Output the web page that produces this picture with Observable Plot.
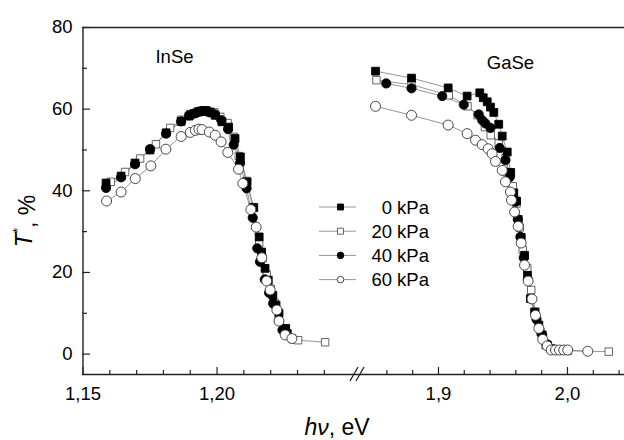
<!DOCTYPE html>
<html><head><meta charset="utf-8">
<script src="https://cdn.jsdelivr.net/npm/d3@7"></script>
<script src="https://cdn.jsdelivr.net/npm/@observablehq/plot@0.6"></script>
<style>
body{margin:0;background:#fff;font-family:"Liberation Sans",Arial,sans-serif}
#chart svg{display:block}
</style>
</head><body><div id="chart"></div>
<script>
// ---- data (photon energy eV, T* %) ----
const seriesNames = ["0 kPa", "20 kPa", "40 kPa", "60 kPa"];
const materialLabels = ["InSe", "GaSe"];

const inSe0 = [[1.1586,41.9],[1.1642,43.6],[1.1694,46.8],[1.1750,50.0],[1.1810,54.2],[1.1866,57.0],[1.1896,58.3],[1.1914,58.9],[1.1929,59.3],[1.1944,59.6],[1.1959,59.6],[1.1974,59.3],[1.1993,58.5],[1.2018,56.9],[1.2043,55.6],[1.2067,52.8],[1.2087,48.3],[1.2112,42.2],[1.2137,35.9],[1.2157,28.7],[1.2166,25.0],[1.2179,21.0],[1.2191,18.1],[1.2208,14.4],[1.2220,12.0],[1.2231,10.0],[1.2256,6.3],[1.2262,5.0]];
const inSe20 = [[1.1604,42.2],[1.1657,44.6],[1.1713,47.9],[1.1772,51.4],[1.1825,55.4],[1.1866,57.4],[1.1900,58.8],[1.1930,59.5],[1.1960,59.7],[1.1990,59.2],[1.2012,58.1],[1.2039,56.6],[1.2062,53.2],[1.2081,48.5],[1.2110,42.4],[1.2133,36.0],[1.2157,27.1],[1.2170,23.5],[1.2185,19.5],[1.2200,16.0],[1.2215,12.5],[1.2230,9.5],[1.2255,5.5],[1.2280,3.8],[1.2302,3.4],[1.2403,2.9]];
const inSe40 = [[1.1586,40.7],[1.1642,43.3],[1.1694,46.5],[1.1750,50.2],[1.1810,54.0],[1.1866,57.0],[1.1896,58.5],[1.1913,58.9],[1.1929,59.3],[1.1944,59.5],[1.1959,59.5],[1.1973,59.2],[1.1992,58.7],[1.2016,57.3],[1.2041,55.1],[1.2062,51.3],[1.2086,46.8],[1.2110,40.6],[1.2133,33.4],[1.2150,25.9],[1.2160,22.6],[1.2178,18.3],[1.2194,15.0],[1.2209,12.4],[1.2244,5.9]];
const inSe60 = [[1.1588,37.5],[1.1642,39.7],[1.1695,43.0],[1.1753,46.1],[1.1809,50.2],[1.1866,53.3],[1.1900,54.3],[1.1919,54.8],[1.1932,55.1],[1.1944,55.0],[1.1971,54.4],[1.1993,53.6],[1.2015,52.0],[1.2040,49.4],[1.2080,45.3],[1.2096,41.8],[1.2126,35.4],[1.2146,31.1],[1.2167,23.6],[1.2185,17.9],[1.2198,15.7],[1.2223,10.8],[1.2231,8.1],[1.2254,4.7],[1.2279,3.8]];

const gaSe0 = [[1.8512,69.3],[1.8791,67.6],[1.9075,65.2],[1.9222,63.2],[1.9320,64.0],[1.9347,62.8],[1.9378,61.8],[1.9403,60.5],[1.9429,59.2],[1.9467,56.3],[1.9494,53.4],[1.9533,49.5],[1.9560,44.5],[1.9584,39.5],[1.9605,37.5],[1.9618,33.0],[1.9641,28.6],[1.9667,24.2],[1.9690,19.3],[1.9713,13.6],[1.9745,10.3],[1.9778,7.1],[1.9804,4.7],[1.9843,2.2],[1.9874,1.3]];
const gaSe20 = [[1.8519,67.1],[1.8791,66.0],[1.9080,63.4],[1.9225,60.7],[1.9303,58.5],[1.9360,55.6],[1.9405,53.6],[1.9467,51.6],[1.9520,48.0],[1.9545,44.6],[1.9576,41.1],[1.9605,36.9],[1.9630,31.0],[1.9653,25.5],[1.9688,21.0],[1.9719,15.7],[1.9752,10.4],[1.9790,5.5],[1.9830,2.2],[1.9874,1.2],[1.9938,0.9],[2.0002,0.8],[2.0320,0.6]];
const gaSe40 = [[1.8595,66.3],[1.8791,65.1],[1.9029,63.2],[1.9196,61.1],[1.9312,58.7],[1.9339,57.3],[1.9364,56.5],[1.9403,55.4],[1.9475,50.5],[1.9519,47.5],[1.9553,43.4],[1.9597,37.3],[1.9615,33.0],[1.9635,28.7],[1.9661,23.6],[1.9693,18.3],[1.9719,13.5],[1.9760,8.5],[1.9804,4.7],[1.9843,2.4],[1.9874,1.2]];
const gaSe60 = [[1.8512,60.7],[1.8791,58.5],[1.9075,56.1],[1.9222,54.0],[1.9287,52.4],[1.9339,51.3],[1.9385,50.3],[1.9416,49.1],[1.9442,47.2],[1.9494,45.0],[1.9519,42.2],[1.9558,39.7],[1.9566,37.7],[1.9590,34.8],[1.9618,31.3],[1.9641,27.2],[1.9667,21.8],[1.9695,17.9],[1.9725,13.5],[1.9752,9.5],[1.9778,6.3],[1.9808,3.6],[1.9843,2.0],[1.9874,1.0],[1.9907,1.0],[1.9938,1.0],[1.9971,1.0],[2.0002,1.0],[2.0157,0.7]];

const xMajorTicks = [1.15, 1.20, 1.9, 2.0];
const xMinorTicks = [1.16, 1.17, 1.18, 1.19, 1.21, 1.22, 1.23, 1.24, 1.86, 1.88, 1.92, 1.94, 1.96, 1.98, 2.02, 2.04];
const yMajorTicks = [0, 20, 40, 60, 80];
const yMinorTicks = [10, 30, 50, 70];
const axisBreak = [1.252, 1.838];

// ---- build ----
const W = 624, H = 440;
const mL = 82, mT = 27, mB = 66, mR = 0;
const plotH = H - mT - mB, plotW = W - mL - mR;

const styles = [
  {symbol: "square", fill: "#000", stroke: "#000", r: 4.4},
  {symbol: "square", fill: "#fff", stroke: "#555", r: 4.2},
  {symbol: "circle", fill: "#000", stroke: "#000", r: 4.6},
  {symbol: "circle", fill: "#fff", stroke: "#333", r: 5.0}
];
const groups = [[inSe0, inSe20, inSe40, inSe60], [gaSe0, gaSe20, gaSe40, gaSe60]];
const rows = [];
groups.forEach((g, m) => g.forEach((arr, s) => arr.forEach(([x, y]) => rows.push({x, y, s, m}))));

const drawOrder = [1, 0, 2, 3];
const lineMarks = [];
const dotMarks = [];
for (let m = 0; m < 2; m++) {
  for (const s of drawOrder) {
    const d = rows.filter(r => r.m === m && r.s === s);
    lineMarks.push(Plot.line(d, {x: "x", y: "y", stroke: "#8a8a8a", strokeWidth: 0.9}));
  }
}
for (let m = 0; m < 2; m++) {
  for (const s of drawOrder) {
    const d = rows.filter(r => r.m === m && r.s === s);
    const st = styles[s];
    dotMarks.push(Plot.dot(d, {x: "x", y: "y", symbol: st.symbol, r: st.r, fill: st.fill, stroke: st.stroke, strokeWidth: 0.9}));
  }
}

const fmt = d => (d < 1.5 ? d.toFixed(2) : d.toFixed(1)).replace(".", ",");
const axisColor = "#222";

const legendMark = () => {
  const g = d3.create("svg:g");
  seriesNames.forEach((name, i) => {
    const y = 207 + i * 24.2;
    g.append("line").attr("x1", 319).attr("x2", 356).attr("y1", y).attr("y2", y)
      .attr("stroke", "#8a8a8a").attr("stroke-width", 0.9);
    const st = styles[i];
    const size = st.symbol === "square" ? 36 : 34;
    g.append("path").attr("transform", `translate(340.5,${y})`)
      .attr("d", d3.symbol(st.symbol === "square" ? d3.symbolSquare : d3.symbolCircle, size)())
      .attr("fill", st.fill).attr("stroke", st.stroke).attr("stroke-width", 0.9);
    g.append("text").attr("x", 429).attr("y", y).attr("dy", "0.36em")
      .attr("text-anchor", "end").attr("font-size", 18.5).attr("fill", "#000").text(name);
  });
  return g.node();
};

const breakMark = (index, scales) => {
  const g = d3.create("svg:g");
  const xb = (scales.x(axisBreak[0]) + scales.x(axisBreak[1])) / 2;
  const yb = H - mB;
  [-3, 3].forEach(o => {
    g.append("line").attr("x1", xb + o - 4).attr("y1", yb + 7).attr("x2", xb + o + 4).attr("y2", yb - 7)
      .attr("stroke", axisColor).attr("stroke-width", 1.3);
  });
  return g.node();
};

const plot = Plot.plot({
  width: W, height: H,
  marginLeft: mL, marginTop: mT, marginBottom: mB, marginRight: mR,
  style: {fontFamily: "'Liberation Sans', Arial, sans-serif", background: "#fff", color: "#000", overflow: "visible"},
  x: {type: "linear", domain: [1.15, axisBreak[0], axisBreak[1], 2.0442], range: [82.5, 356, 358, 624]},
  y: {domain: [-5, 80], range: [H - mB, mT]},
  marks: [
    // frame lines
    Plot.ruleY([80], {stroke: axisColor, strokeWidth: 1.4}),
    Plot.ruleY([-5], {stroke: axisColor, strokeWidth: 1.4}),
    Plot.ruleX([1.15], {stroke: axisColor, strokeWidth: 1.4}),
    // inward ticks
    Plot.ruleX(xMajorTicks, {stroke: axisColor, strokeWidth: 1.2, insetTop: plotH - 7}),
    Plot.ruleX(xMinorTicks, {stroke: axisColor, strokeWidth: 1.2, insetTop: plotH - 4}),
    Plot.ruleY(yMajorTicks, {stroke: axisColor, strokeWidth: 1.2, insetRight: plotW - 8}),
    Plot.ruleY(yMinorTicks, {stroke: axisColor, strokeWidth: 1.2, insetRight: plotW - 5}),
    Plot.axisX({ticks: xMajorTicks, tickFormat: fmt, tickSize: 0, tickPadding: 12, fontSize: 18.5, label: null}),
    Plot.axisY({ticks: yMajorTicks, tickSize: 0, tickPadding: 10, fontSize: 18.5, label: null}),
    breakMark,
    ...lineMarks,
    ...dotMarks,
    Plot.text([materialLabels[0]], {text: d => d, frameAnchor: "top-left", dx: 92, dy: 35, lineAnchor: "bottom", textAnchor: "middle", fontSize: 18.5, fill: "#000"}),
    Plot.text([materialLabels[1]], {text: d => d, frameAnchor: "top-left", dx: 428, dy: 41, lineAnchor: "bottom", textAnchor: "middle", fontSize: 18.5, fill: "#000"}),
    legendMark
  ]
});

// axis titles with italic symbols
const svg = d3.select(plot);
const yt = svg.append("text").attr("transform", "translate(32,221) rotate(-90)")
  .attr("text-anchor", "middle").attr("font-size", 23).attr("fill", "#000");
yt.append("tspan").attr("font-style", "italic").text("T");
yt.append("tspan").attr("font-size", 13).attr("dy", "-0.75em").text("*");
yt.append("tspan").attr("dy", "0.55em").text(", %");

const xt = svg.append("text").attr("x", 337).attr("y", 435)
  .attr("text-anchor", "middle").attr("font-size", 23).attr("fill", "#000");
xt.append("tspan").attr("font-style", "italic").text("hν");
xt.append("tspan").text(", eV");

document.getElementById("chart").appendChild(plot);
</script>
</body></html>
